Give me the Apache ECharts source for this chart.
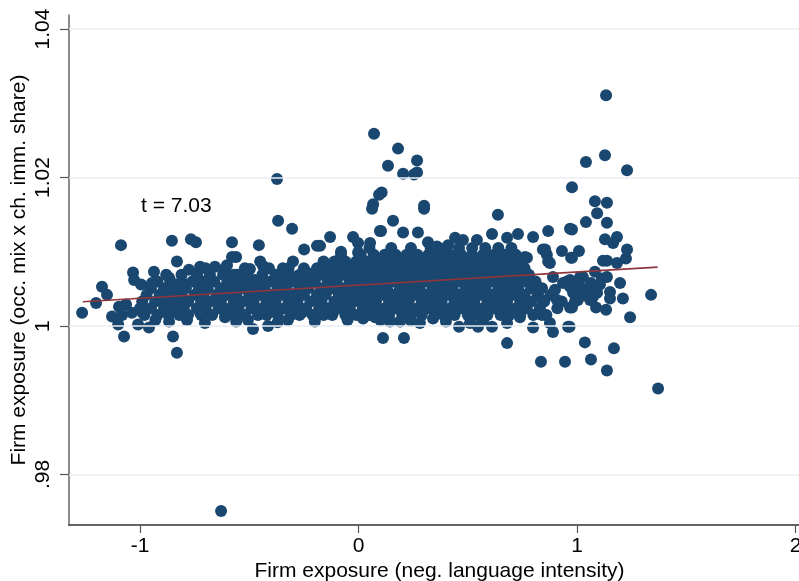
<!DOCTYPE html>
<html><head><meta charset="utf-8">
<script src="https://cdn.jsdelivr.net/npm/echarts@6/dist/echarts.min.js"></script>
<style>html,body{margin:0;padding:0;background:#fff}#c{width:799px;height:581px}</style>
</head><body><div id="c"></div>
<script>
// Tick values / labels
const xTicks = [-1, 0, 1, 2];
const yTicks = [0.98, 1, 1.02, 1.04];
const yTickLabels = ['.98', '1', '1.02', '1.04'];

// Dense core, read row by row: y level of each row and x positions of its points
const coreRowY = [1.0015, 1.0024, 1.0033, 1.0042, 1.0051, 1.0060, 1.0069, 1.0078, 1.0087, 1.0096, 1.0105];
const coreRowX = [
  [-0.98,-0.92,-0.87,-0.82,-0.78,-0.72,-0.67,-0.61,-0.57,-0.52,-0.46,-0.42,-0.37,-0.31,-0.27,-0.21,-0.16,-0.12,-0.06,-0.01,0.05,0.09,0.14,0.20,0.24,0.29,0.35,0.39,0.44,0.50,0.54,0.59,0.65,0.69,0.74,0.80,0.86],
  [-1.00,-0.95,-0.89,-0.85,-0.80,-0.74,-0.70,-0.64,-0.59,-0.55,-0.49,-0.44,-0.39,-0.34,-0.29,-0.24,-0.18,-0.14,-0.08,-0.04,0.02,0.07,0.12,0.17,0.22,0.27,0.32,0.37,0.42,0.47,0.52,0.57,0.62,0.67,0.72,0.77,0.83,0.91],
  [-0.99,-0.93,-0.88,-0.83,-0.78,-0.72,-0.68,-0.63,-0.57,-0.53,-0.48,-0.42,-0.38,-0.32,-0.28,-0.22,-0.17,-0.11,-0.07,-0.02,0.03,0.08,0.14,0.18,0.23,0.29,0.33,0.38,0.44,0.48,0.53,0.59,0.63,0.68,0.74,0.79,0.85,0.93],
  [-0.97,-0.91,-0.86,-0.81,-0.75,-0.71,-0.65,-0.60,-0.56,-0.50,-0.45,-0.40,-0.35,-0.30,-0.25,-0.19,-0.15,-0.09,-0.04,0.01,0.06,0.11,0.16,0.21,0.26,0.31,0.36,0.41,0.46,0.51,0.56,0.61,0.66,0.71,0.76,0.82,0.88],
  [-0.95,-0.89,-0.84,-0.79,-0.73,-0.69,-0.63,-0.58,-0.53,-0.48,-0.43,-0.37,-0.33,-0.27,-0.23,-0.17,-0.12,-0.07,-0.02,0.03,0.08,0.13,0.19,0.23,0.28,0.34,0.38,0.43,0.49,0.53,0.58,0.64,0.68,0.73,0.79,0.84],
  [-0.92,-0.86,-0.81,-0.76,-0.71,-0.66,-0.60,-0.55,-0.51,-0.45,-0.40,-0.35,-0.30,-0.25,-0.20,-0.14,-0.10,-0.04,0.01,0.06,0.11,0.16,0.21,0.26,0.31,0.36,0.41,0.46,0.51,0.56,0.61,0.66,0.71,0.76,0.81],
  [-0.88,-0.81,-0.74,-0.68,-0.62,-0.57,-0.51,-0.44,-0.38,-0.33,-0.27,-0.22,-0.17,-0.12,-0.07,-0.02,0.03,0.08,0.13,0.18,0.23,0.28,0.33,0.38,0.43,0.48,0.53,0.58,0.63,0.68,0.73,0.78],
  [-0.70,-0.61,-0.52,-0.41,-0.32,-0.25,-0.19,-0.14,-0.09,-0.04,0.01,0.06,0.11,0.16,0.21,0.26,0.31,0.36,0.41,0.46,0.51,0.56,0.61,0.66,0.71,0.76],
  [-0.45,-0.30,-0.16,-0.11,-0.06,-0.01,0.04,0.09,0.14,0.19,0.24,0.29,0.34,0.39,0.44,0.49,0.54,0.59,0.64,0.69,0.74],
  [-0.08,0.01,0.07,0.12,0.17,0.22,0.27,0.32,0.37,0.42,0.47,0.52,0.57,0.62,0.67,0.72],
  [0.05,0.15,0.24,0.33,0.40,0.46,0.52,0.58,0.64,0.70]
];

// Points on the lower edge of the cloud
const lowerEdge = [[-0.93,1.0008],[-0.867,1.0006],[-0.785,1.0008],[-0.725,1.0018],[-0.703,1.0004],[-0.611,1.0012],[-0.56,1.0006],[-0.506,1.0008],[-0.483,0.9996],[-0.414,1.0000],[-0.37,1.0005],[-0.323,1.0008],[-0.259,1.0018],[-0.20,1.0006],[-0.166,1.0019],[-0.107,1.0022],[-0.05,1.0008],[0.021,1.0010],[0.076,1.0012],[0.10,1.0008],[0.144,1.0006],[0.190,1.0006],[0.24,1.0007],[0.281,1.0004],[0.341,1.0010],[0.40,1.0006],[0.460,0.9999],[0.51,1.0004],[0.547,0.9999],[0.57,1.0007],[0.611,0.9999],[0.680,1.0004],[0.739,1.0012],[0.799,0.9998],[0.840,1.0015]];

// Points on the upper edge of the cloud
const upperEdge = [[-0.776,1.0076],[-0.739,1.0069],[-0.725,1.0080],[-0.657,1.0080],[-0.602,1.0082],[-0.579,1.0093],[-0.560,1.0093],[-0.556,1.0069],[-0.497,1.0077],[-0.474,1.0062],[-0.437,1.0081],[-0.346,1.0078],[-0.291,1.0066],[-0.236,1.0072],[-0.162,1.0078],[-0.144,1.0083],[-0.176,1.0108],[-0.130,1.0120],[-0.080,1.0100],[-0.025,1.0120],[-0.002,1.0112],[-0.002,1.0099],[0.053,1.0112],[0.098,1.0128],[0.103,1.0128],[0.158,1.0142],[0.204,1.0126],[0.272,1.0126],[0.318,1.0113],[0.359,1.0107],[0.410,1.0109],[0.442,1.0119],[0.478,1.0116],[0.542,1.0116],[0.611,1.0124],[0.680,1.0119],[0.730,1.0124],[0.670,1.0093],[0.708,1.0092],[0.762,1.0093]];

// Sparse left tail
const leftTail = [[-1.265,1.0018],[-1.201,1.0031],[-1.174,1.0053],[-1.151,1.0042],[-1.128,1.0013],[-1.100,1.0002],[-1.096,1.0026],[-1.064,1.0029],[-1.082,1.0015],[-1.037,1.0018],[-1.032,1.0072],[-1.027,1.0062],[-0.995,1.0056],[-1.009,1.0002],[-0.959,0.9998],[-0.991,1.0019],[-0.936,1.0073],[-0.945,1.0058],[-0.831,1.0087],[-0.867,1.0065]];

// Sparse right part of the cloud
const rightCluster = [[0.799,1.0120],[0.844,1.0103],[0.854,1.0103],[0.862,1.0096],[0.868,1.0087],[0.868,1.0128],[0.876,1.0085],[0.931,1.0101],[0.968,1.0131],[0.771,1.0092],[0.822,1.0052],[0.840,1.0035],[0.890,1.0066],[0.899,1.0049],[0.908,1.0035],[0.936,1.0058],[0.954,1.0060],[0.968,1.0025],[0.973,1.0092],[0.876,1.0004],[0.890,0.9992],[0.959,0.9999],[0.966,0.9999],
  [0.977,1.0130],[1.082,1.0168],[1.137,1.0166],[1.092,1.0152],[1.041,1.0140],[1.137,1.0139],[1.128,1.0117],[1.183,1.0120],[1.165,1.0112],[1.009,1.0101],[1.229,1.0103],[0.977,1.0092],[1.119,1.0088],[1.137,1.0088],[1.224,1.0091],[1.183,1.0085],[1.082,1.0073],[1.027,1.0066],[1.014,1.0066],[1.137,1.0066],[1.197,1.0058],[1.004,1.0060],[1.064,1.0058],[1.105,1.0056],[1.151,1.0046],[1.339,1.0042],[1.210,1.0037],[1.151,1.0037],[1.092,1.0045],[1.027,1.0046],[0.982,1.0045],[1.004,1.0035],[1.060,1.0035],[1.087,1.0025],[1.133,1.0022],[0.977,1.0025],[1.243,1.0012],[1.014,1.0053],[1.050,1.0049],[0.968,1.0053],[0.968,1.0062],[0.991,1.0033],[1.036,1.0042],[1.073,1.0039],[1.114,1.0064]];

// Outliers above the cloud
const highOutliers = [[-1.087,1.0109],[-0.854,1.0115],[-0.767,1.0117],[-0.744,1.0113],[-0.579,1.0113],[-0.456,1.0109],[-0.373,1.0198],[-0.368,1.0142],[-0.304,1.0131],[-0.249,1.0103],[-0.190,1.0108],[0.071,1.0259],[0.181,1.0239],[0.135,1.0216],[0.204,1.0205],[0.254,1.0204],[0.268,1.0207],[0.268,1.0223],[0.106,1.0180],[0.094,1.0177],[0.067,1.0164],[0.062,1.0158],[0.300,1.0162],[0.300,1.0158],[0.638,1.0150],[0.977,1.0187],[1.041,1.0221],[1.128,1.0230],[1.229,1.0210],[1.133,1.0311]];

// Outliers below the cloud
const lowOutliers = [[-0.629,0.9751],[1.371,0.9916],[1.137,0.9940],[1.064,0.9955],[0.945,0.9952],[0.835,0.9952],[1.169,0.9970],[1.036,0.9978],[0.680,0.9977],[0.112,0.9984],[0.208,0.9984],[-0.831,0.9964],[-1.073,0.9986],[-0.849,0.9986]];

// Fitted line end points
const fitX = [-1.262, 1.369];
const fitY = [1.00327, 1.00794];

const points = [];
coreRowY.forEach((y, i) => coreRowX[i].forEach(x => points.push([x, y])));
[lowerEdge, upperEdge, leftTail, rightCluster, highOutliers, lowOutliers].forEach(g => g.forEach(p => points.push(p)));

const FONT = 'Liberation Sans, Arial, sans-serif';
const FS = 21;
const chart = echarts.init(document.getElementById('c'), null, {renderer: 'canvas'});
chart.setOption({
  animation: false,
  backgroundColor: '#fff',
  textStyle: {fontFamily: FONT},
  grid: {left: 69, right: 0, top: 15, bottom: 56, containLabel: false, outerBoundsMode: 'none'},
  xAxis: {
    type: 'value', min: -1.325, max: 2.016,
    axisLine: {show: true, onZero: false, lineStyle: {color: '#333', width: 1.5}},
    axisTick: {show: true, length: 8, customValues: xTicks, lineStyle: {color: '#555', width: 1.2}},
    axisLabel: {customValues: xTicks, fontSize: FS, color: '#000', margin: 11, fontFamily: FONT,
      formatter: v => String(v)},
    splitLine: {show: false},
    name: 'Firm exposure (neg. language intensity)', nameLocation: 'middle', nameGap: 36, nameMoveOverlap: false,
    nameTextStyle: {fontSize: FS, color: '#000', fontFamily: FONT, padding: [0, 0, 0, 11]}
  },
  yAxis: {
    type: 'value', min: 0.9732, max: 1.0419,
    axisLine: {show: true, onZero: false, lineStyle: {color: '#666', width: 1.5}},
    axisTick: {show: true, length: 9, customValues: yTicks, lineStyle: {color: '#555', width: 1.2}},
    axisLabel: {customValues: yTicks, fontSize: FS, color: '#000', margin: 15, rotate: 90, fontFamily: FONT,
      formatter: v => yTickLabels[yTicks.findIndex(t => Math.abs(t - v) < 1e-6)] ?? ''},
    splitLine: {show: false},
    name: 'Firm exposure (occ. mix x ch. imm. share)', nameLocation: 'middle', nameGap: 39, nameRotate: 90, nameMoveOverlap: false,
    nameTextStyle: {fontSize: FS, color: '#000', fontFamily: FONT}
  },
  graphic: [{type: 'text', left: 141, top: 196, style: {text: 't = 7.03', fontSize: FS, fill: '#000', font: FS + 'px ' + FONT}}],
  series: [
    {
      type: 'line', data: [], silent: true, z: 1,
      markLine: {silent: true, symbol: ['none', 'none'], label: {show: false},
        lineStyle: {color: '#e8eef3', width: 1.5, type: 'solid'},
        data: yTicks.map(v => ({yAxis: v}))}
    },
    {
      type: 'scatter', data: points, symbolSize: 12, z: 2,
      itemStyle: {color: '#1a476f', opacity: 1}
    },
    {
      type: 'line', data: fitX.map((x, i) => [x, fitY[i]]), symbol: 'none', z: 3,
      lineStyle: {color: '#90353b', width: 1.6}
    }
  ]
});
</script></body></html>
